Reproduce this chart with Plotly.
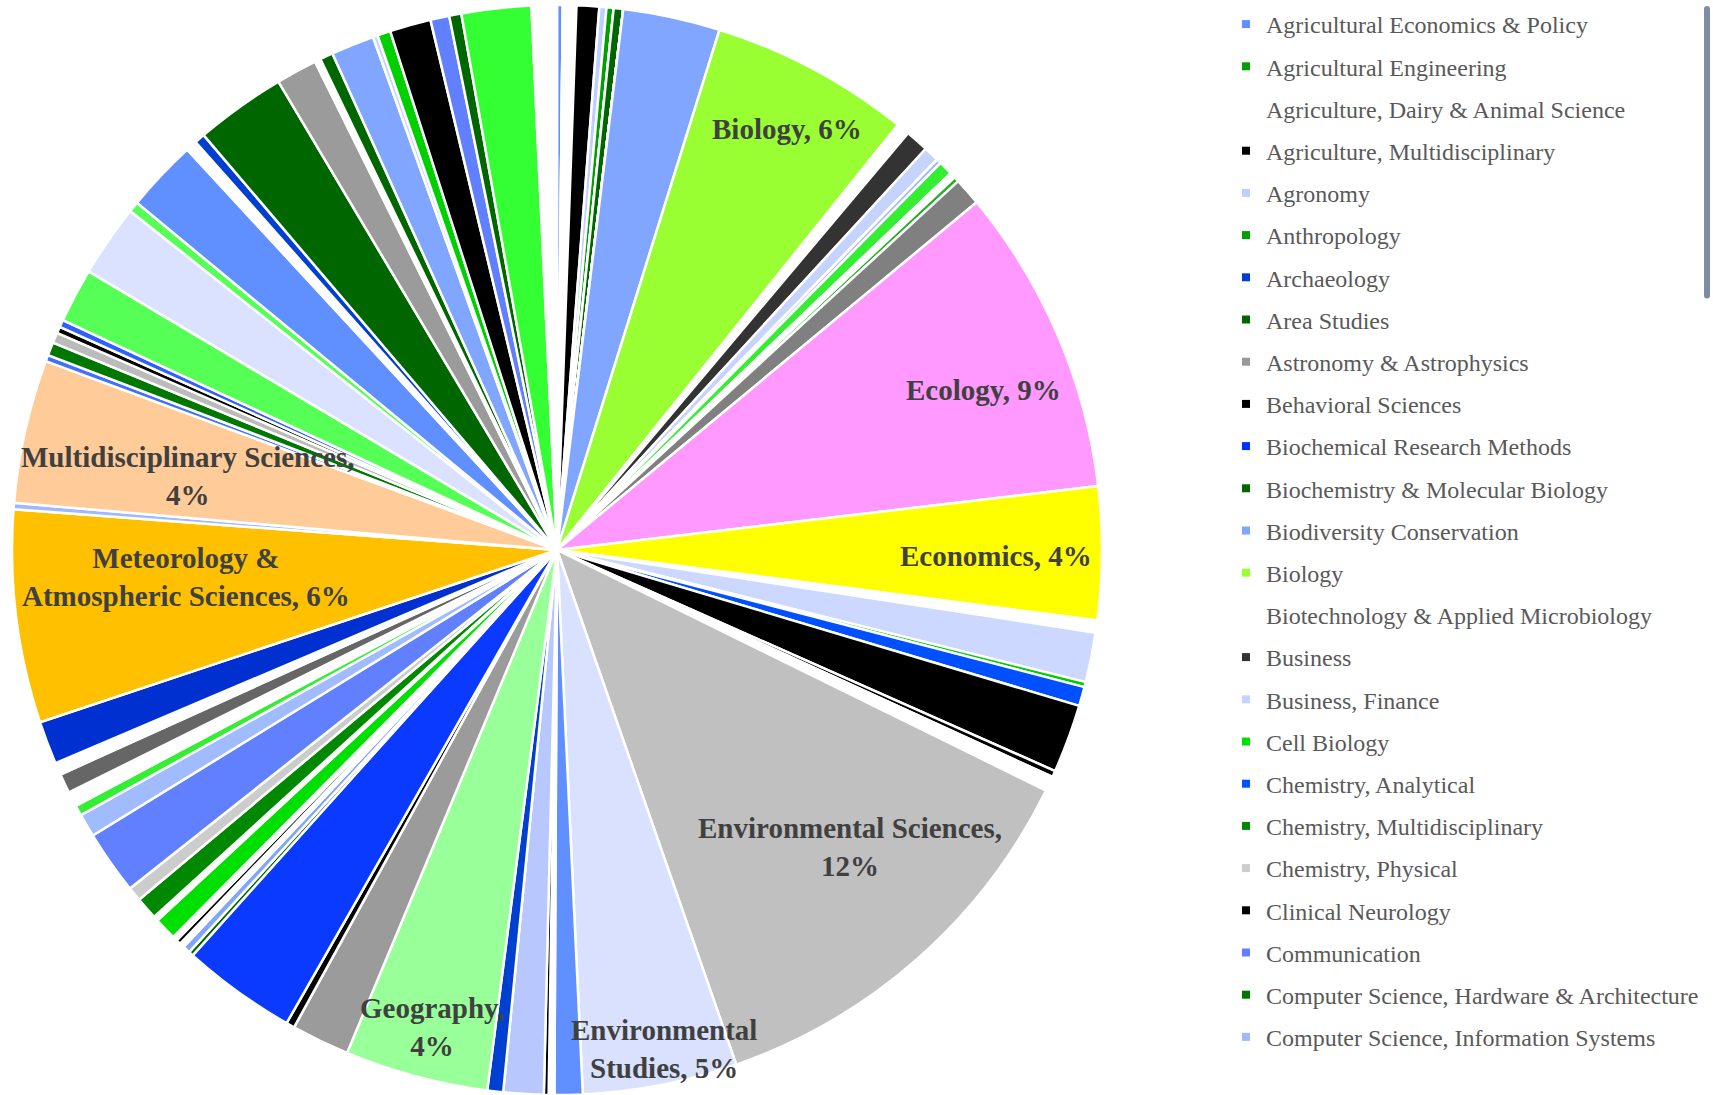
import math
import plotly.graph_objects as go

categories = [
    "Agricultural Economics & Policy", "Agricultural Engineering",
    "Agriculture, Dairy & Animal Science", "Agriculture, Multidisciplinary",
    "Agronomy", "Anthropology", "Archaeology", "Area Studies",
    "Astronomy & Astrophysics", "Behavioral Sciences",
    "Biochemical Research Methods", "Biochemistry & Molecular Biology",
    "Biodiversity Conservation", "Biology",
    "Biotechnology & Applied Microbiology", "Business", "Business, Finance",
    "Cell Biology", "Chemistry, Analytical", "Chemistry, Multidisciplinary",
    "Chemistry, Physical", "Clinical Neurology", "Communication",
    "Computer Science, Hardware & Architecture",
    "Computer Science, Information Systems",
    "Computer Science, Theory & Methods", "Construction & Building Technology",
    "Demography", "Development Studies", "Ecology", "Economics",
    "Education & Educational Research", "Energy & Fuels",
    "Engineering, Chemical", "Engineering, Civil", "Engineering, Environmental",
    "Engineering, Multidisciplinary", "Entomology", "Environmental Sciences",
    "Environmental Studies", "Evolutionary Biology", "Fisheries",
    "Food Science & Technology", "Forestry", "Geochemistry & Geophysics",
    "Geography", "Geography, Physical", "Geology",
    "Geosciences, Multidisciplinary", "Health Care Sciences & Services",
    "Health Policy & Services", "History", "History & Philosophy of Science",
    "Horticulture", "Hospitality, Leisure, Sport & Tourism",
    "Humanities, Multidisciplinary", "Information Science & Library Science",
    "International Relations", "Law", "Limnology", "Management",
    "Marine & Freshwater Biology", "Mathematics, Applied", "Mechanics",
    "Medicine, General & Internal", "Meteorology & Atmospheric Sciences",
    "Microbiology", "Multidisciplinary Sciences",
    "Nanoscience & Nanotechnology", "Nutrition & Dietetics", "Oceanography",
    "Optics", "Paleontology", "Plant Sciences", "Political Science",
    "Psychology", "Public Administration", "Regional & Urban Planning",
    "Remote Sensing", "Social Sciences, Interdisciplinary", "Sociology",
    "Soil Science", "Spectroscopy", "Statistics & Probability",
    "Thermodynamics", "Toxicology", "Transportation", "Urban Studies",
    "Veterinary Sciences", "Water Resources", "Zoology",
]

# share of publications (%) per category
shares = [
    0.17, 0.00, 0.40, 0.67, 0.21, 0.21, 0.00, 0.28,
    0.00, 0.00, 0.00, 0.00, 2.88, 5.94, 0.38, 0.69, 0.46,
    0.00, 0.00, 0.00, 0.00, 0.00, 0.00, 0.00, 0.14,
    0.42, 0.17, 0.15, 0.82, 9.14, 3.94,
    0.36, 1.47, 0.15, 0.57, 2.03, 0.19, 0.44, 12.39,
    4.58, 0.83, 0.17, 0.14, 1.19, 0.47,
    4.25, 1.72, 0.25, 3.39, 0.14,
    0.22, 0.14, 0.14, 0.14, 0.67,
    0.14, 0.67, 0.42, 1.89, 0.69, 0.31,
    0.44, 0.58, 0.36, 1.28, 6.31,
    0.19, 4.25, 0.19, 0.39, 0.31,
    0.19, 0.22, 1.61, 2.14, 0.31, 2.14, 0.33,
    0.31, 2.69, 1.22, 0.17, 0.39, 1.28,
    0.14, 0.39, 1.22, 0.56, 0.36, 2.06, 0.75,
]

slice_colors = [
    "#6090FF", "#00A000", "#FFFFFF", "#000000", "#BFCFFF", "#00A000", "#0040D0", "#006600",
    "#999999", "#000000", "#0033FF", "#006600", "#80A6FF", "#99FF33", "#FFFFFF", "#333333", "#C5D3FF",
    "#00E000", "#0050FF", "#008800", "#CCCCCC", "#000000", "#6080FF", "#007700", "#A0B8FF",
    "#33EE33", "#FFFFFF", "#20B020", "#808080", "#FF99FF", "#FFFF00",
    "#FFFFFF", "#CCD8FF", "#00CC00", "#0050FF", "#000000", "#000000", "#FFFFFF", "#C0C0C0",
    "#D9E1FF", "#6090FF", "#FFFFFF", "#000000", "#B8C8FF", "#0040D0",
    "#99FF99", "#9B9B9B", "#000000", "#0A3AFF", "#006600",
    "#80A6FF", "#FFFFFF", "#000000", "#FFFFFF", "#00E000",
    "#FFFFFF", "#008800", "#CCCCCC", "#6080FF", "#A0BCFF", "#33EE33",
    "#FFFFFF", "#666666", "#FFFFFF", "#0030D0", "#FFC000",
    "#A0B8FF", "#FFCC99", "#4070FF", "#007700", "#BBBBBB",
    "#000000", "#3060FF", "#55FF55", "#DAE2FF", "#55FF55", "#6090FF", "#FFFFFF",
    "#0040D0", "#006600", "#9B9B9B", "#FFFFFF", "#006600", "#80A6FF",
    "#C8D4FF", "#00D000", "#000000", "#6080FF", "#006600", "#33FF33", "#FFFFFF",
]

# data labels shown inside the pie
label_formats = {
    "Biology": "Biology, {p}%",
    "Ecology": "Ecology, {p}%",
    "Economics": "Economics, {p}%",
    "Environmental Sciences": "Environmental Sciences,<br>{p}%",
    "Environmental Studies": "Environmental<br>Studies, {p}%",
    "Geography": "Geography,<br>{p}%",
    "Meteorology & Atmospheric Sciences": "Meteorology &<br>Atmospheric Sciences, {p}%",
    "Multidisciplinary Sciences": "Multidisciplinary Sciences,<br>{p}%",
}
# label placement style: (fraction of radius, angular offset in degrees)
label_place = {
    "Biology": (0.88, 0.6),
    "Ecology": (0.835, 2.6),
    "Economics": (0.805, 0.4),
    "Environmental Sciences": (0.765, -3.1),
    "Environmental Studies": (0.936, -1.1),
    "Geography": (0.905, -0.3),
    "Meteorology & Atmospheric Sciences": (0.683, 2.9),
    "Multidisciplinary Sciences": (0.69, -1.2),
}

W, H = 1713, 1095
PIE_X0, PIE_X1 = 12, 1102      # pixel extent of pie domain
PIE_Y0, PIE_Y1 = 5, 1095

fig = go.Figure()
fig.add_trace(go.Pie(
    labels=categories,
    values=shares,
    sort=False,
    direction="clockwise",
    rotation=0,
    marker=dict(colors=slice_colors, line=dict(color="#FFFFFF", width=2.5)),
    textinfo="none",
    hoverinfo="label+percent",
    showlegend=False,
    domain=dict(x=[PIE_X0 / W, PIE_X1 / W], y=[1 - PIE_Y1 / H, 1 - PIE_Y0 / H]),
))

# legend entries (same colours as the slices), one group each for spacing
for cat, col in zip(categories, slice_colors):
    fig.add_trace(go.Scatter(
        x=[None], y=[None], mode="markers", name=cat, legendgroup=cat,
        marker=dict(symbol="square", size=8, color=col, line=dict(width=0)),
        hoverinfo="skip", showlegend=True,
    ))

# data labels
total = sum(shares)
cx = (PIE_X0 + PIE_X1) / 2
cy = (PIE_Y0 + PIE_Y1) / 2
R = min(PIE_X1 - PIE_X0, PIE_Y1 - PIE_Y0) / 2
cum = 0.0
annotations = []
for cat, v in zip(categories, shares):
    start = cum
    cum += v
    if cat in label_formats:
        frac, off = label_place[cat]
        mid = (start + cum) / 2 / total * 360 + off
        px = cx + frac * R * math.sin(math.radians(mid))
        py = cy - frac * R * math.cos(math.radians(mid))
        p = int(round(v / total * 100))
        annotations.append(dict(
            x=px / W, y=1 - py / H, xref="paper", yref="paper",
            text=label_formats[cat].format(p=p), showarrow=False,
            xanchor="center", yanchor="middle", align="center",
            font=dict(family="Liberation Serif", size=29, color="#404040", weight="bold"),
        ))

fig.update_layout(
    width=W, height=H,
    margin=dict(l=0, r=0, t=0, b=0),
    paper_bgcolor="#FFFFFF", plot_bgcolor="#FFFFFF",
    xaxis=dict(visible=False), yaxis=dict(visible=False),
    annotations=annotations,
    legend=dict(
        x=1226 / W, y=1 - 2 / H, xanchor="left", yanchor="top",
        traceorder="grouped", tracegroupgap=8, maxheight=1060,
        font=dict(family="Liberation Serif", size=24, color="#595959"),
        bgcolor="rgba(0,0,0,0)", itemclick=False, itemdoubleclick=False,
    ),
)

fig.write_html("out.html")
